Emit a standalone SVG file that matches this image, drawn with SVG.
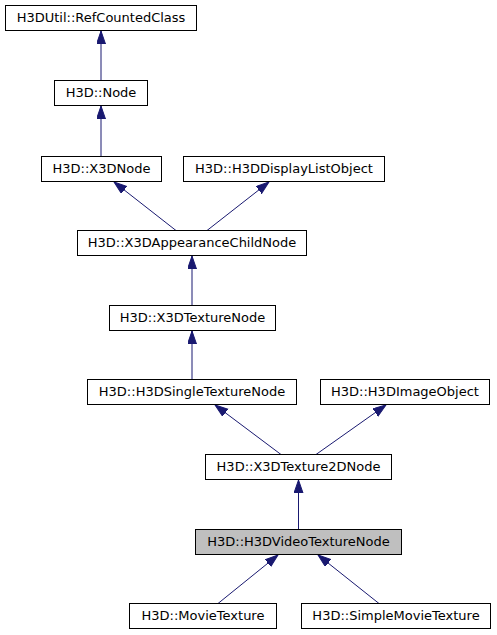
<svg xmlns="http://www.w3.org/2000/svg" width="497" height="635" viewBox="0 0 497 635">
<style>
.box{fill:#ffffff;stroke:#000000;stroke-width:1}
.cur{fill:#bfbfbf;stroke:#000000;stroke-width:1}
.lbl{font-family:"DejaVu Sans","Liberation Sans",sans-serif;font-size:13px;fill:#000000;text-anchor:middle}
.edge{stroke:#191970;stroke-width:1;fill:none;marker-end:url(#arr)}
</style>
<defs>
<marker id="arr" markerUnits="userSpaceOnUse" markerWidth="14" markerHeight="10" refX="13" refY="4.5" orient="auto">
<path d="M0,0 L13,4.5 L0,9 Z" fill="#191970" stroke="#191970" stroke-width="1"/>
</marker>
</defs>
<rect width="497" height="635" fill="#ffffff"/>
<g id="edges">
<line class="edge" x1="101" y1="80.5" x2="101" y2="31"/>
<line class="edge" x1="101" y1="156.5" x2="101" y2="106"/>
<line class="edge" x1="176" y1="230.5" x2="114" y2="182"/>
<line class="edge" x1="207" y1="230.5" x2="269" y2="182"/>
<line class="edge" x1="192" y1="305.5" x2="192" y2="256"/>
<line class="edge" x1="192" y1="379.5" x2="192" y2="331"/>
<line class="edge" x1="281" y1="454.5" x2="215" y2="405"/>
<line class="edge" x1="316" y1="454.5" x2="386" y2="405"/>
<line class="edge" x1="298.5" y1="529.5" x2="298.5" y2="480"/>
<line class="edge" x1="218" y1="603.5" x2="278" y2="555"/>
<line class="edge" x1="379" y1="603.5" x2="318" y2="555"/>
</g>
<g id="n_refcounted"><rect class="box" x="5.5" y="5.5" width="191" height="25"/><text class="lbl" x="101" y="22">H3DUtil::RefCountedClass</text></g>
<g id="n_node"><rect class="box" x="54.5" y="80.5" width="93" height="25"/><text class="lbl" x="101" y="97">H3D::Node</text></g>
<g id="n_x3dnode"><rect class="box" x="41.5" y="156.5" width="120" height="25"/><text class="lbl" x="101.5" y="173">H3D::X3DNode</text></g>
<g id="n_displaylist"><rect class="box" x="183.5" y="156.5" width="201" height="25"/><text class="lbl" x="284" y="173">H3D::H3DDisplayListObject</text></g>
<g id="n_appearancechild"><rect class="box" x="77.5" y="230.5" width="229" height="25"/><text class="lbl" x="192" y="247">H3D::X3DAppearanceChildNode</text></g>
<g id="n_texturenode"><rect class="box" x="109.5" y="305.5" width="166" height="25"/><text class="lbl" x="192.5" y="322">H3D::X3DTextureNode</text></g>
<g id="n_singletexture"><rect class="box" x="87.5" y="379.5" width="209" height="25"/><text class="lbl" x="192" y="396">H3D::H3DSingleTextureNode</text></g>
<g id="n_imageobject"><rect class="box" x="320.5" y="379.5" width="169" height="25"/><text class="lbl" x="405" y="396">H3D::H3DImageObject</text></g>
<g id="n_texture2d"><rect class="box" x="205.5" y="454.5" width="186" height="25"/><text class="lbl" x="298.5" y="471">H3D::X3DTexture2DNode</text></g>
<g id="n_videotexture"><rect class="cur" x="195.5" y="529.5" width="206" height="25"/><text class="lbl" x="298.5" y="546">H3D::H3DVideoTextureNode</text></g>
<g id="n_movietexture"><rect class="box" x="129.5" y="603.5" width="147" height="25"/><text class="lbl" x="203" y="620">H3D::MovieTexture</text></g>
<g id="n_simplemovie"><rect class="box" x="301.5" y="603.5" width="189" height="25"/><text class="lbl" x="396" y="620">H3D::SimpleMovieTexture</text></g>
</svg>
